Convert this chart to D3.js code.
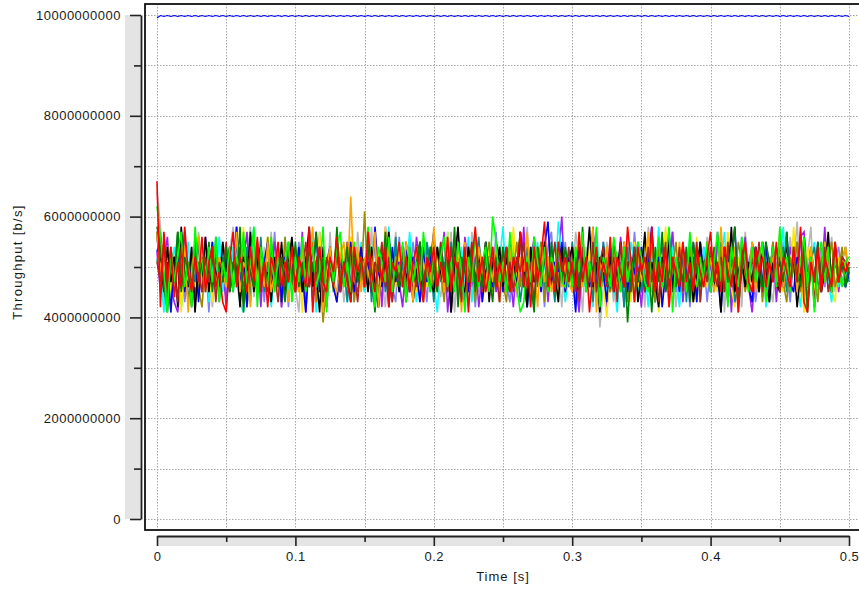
<!DOCTYPE html>
<html>
<head>
<meta charset="utf-8">
<script src="https://cdn.jsdelivr.net/npm/d3@7"></script>
<style>
  html, body { margin: 0; padding: 0; background: #fff; }
  svg { display: block; }
  text { font-family: "Liberation Sans", Arial, Helvetica, sans-serif; fill: #1a1a1a; }
</style>
</head>
<body>
<svg id="chart" width="859" height="590"></svg>
<script>
// Throughput samples, one value every STEP seconds, in units of UNIT b/s.
const STEP = 0.0025;
const UNIT = 1e8;

// Aggregate link throughput (top trace)
const linkTotal = [
99.4,99.9,99.7,99.9,99.7,99.9,99.7,99.9,99.7,99.9,99.7,99.9,99.7,99.9,99.7,99.9,99.7,99.9,99.7,99.9,
99.7,99.9,99.7,99.9,99.7,99.9,99.7,99.9,99.7,99.9,99.7,99.9,99.7,99.9,99.7,99.9,99.7,99.9,99.7,99.9,
99.7,99.9,99.7,99.9,99.7,99.9,99.7,99.9,99.7,99.9,99.7,99.9,99.7,99.9,99.7,99.9,99.7,99.9,99.7,99.9,
99.7,99.9,99.7,99.9,99.7,99.9,99.7,99.9,99.7,99.9,99.7,99.9,99.7,99.9,99.7,99.9,99.7,99.9,99.7,99.9,
99.7,99.9,99.7,99.9,99.7,99.9,99.7,99.9,99.7,99.9,99.7,99.9,99.7,99.9,99.7,99.9,99.7,99.9,99.7,99.9,
99.7,99.9,99.7,99.9,99.7,99.9,99.7,99.9,99.7,99.9,99.7,99.9,99.7,99.9,99.7,99.9,99.7,99.9,99.7,99.9,
99.7,99.9,99.7,99.9,99.7,99.9,99.7,99.9,99.7,99.9,99.7,99.9,99.7,99.9,99.7,99.9,99.7,99.9,99.7,99.9,
99.7,99.9,99.7,99.9,99.7,99.9,99.7,99.9,99.7,99.9,99.7,99.9,99.7,99.9,99.7,99.9,99.7,99.9,99.7,99.9,
99.7,99.9,99.7,99.9,99.7,99.9,99.7,99.9,99.7,99.9,99.7,99.9,99.7,99.9,99.7,99.9,99.7,99.9,99.7,99.9,
99.7,99.9,99.7,99.9,99.7,99.9,99.7,99.9,99.7,99.9,99.7,99.9,99.7,99.9,99.7,99.9,99.7,99.9,99.7,99.9,
99.7];

// Per-flow throughput
const flowGrey = [
65,58,44,53,41,49,57,45,51,47,54,41,57,49,46,52,42,50,56,47,
44,53,58,46,50,42,52,58,44,49,46,54,47,57,45,51,42,52,49,55,
46,41,54,50,47,56,45,52,49,42,57,46,51,53,43,48,52,45,57,49,
51,46,58,42,52,48,42,54,49,57,46,51,44,55,47,52,43,49,54,46,
56,47,44,52,49,57,41,51,46,53,42,57,49,45,52,47,55,46,51,43,
49,54,46,57,44,51,48,58,42,52,49,46,54,45,56,47,51,42,52,49,
46,57,51,41,54,48,45,52,38,46,55,49,43,53,50,46,56,45,52,47,
51,42,58,49,46,53,44,57,48,52,42,50,55,46,49,53,43,52,47,56,
45,51,49,57,41,53,48,46,52,42,57,49,46,54,50,44,55,47,43,52,
49,54,46,56,50,59,47,44,52,58,42,49,53,46,51,56,45,52,47,49,
50];

const flowLightBlue = [
55,57,47,42,53,46,51,55,43,49,52,45,56,47,51,41,54,49,46,55,
43,51,47,56,45,52,42,49,55,46,53,43,51,48,57,45,49,52,42,54,
47,55,45,51,46,54,43,57,49,42,52,47,55,45,51,46,56,43,53,49,
45,52,48,55,42,51,49,54,46,43,56,47,52,45,55,49,46,51,43,54,
49,45,55,46,52,43,51,56,47,54,45,49,42,55,50,46,52,47,57,45,
53,47,43,52,49,55,46,51,45,56,47,52,42,54,57,45,51,49,55,46,
52,43,49,54,46,51,56,45,48,55,43,52,49,46,54,42,51,47,57,49,
45,54,47,51,43,55,49,46,52,57,45,51,47,54,42,49,55,46,52,43,
51,46,55,45,53,49,43,52,47,56,46,51,54,43,49,55,45,52,47,51,
46,55,49,43,52,47,57,45,51,54,42,49,55,46,52,45,51,54,47,46,
49];

const flowPurple = [
53,45,51,56,46,43,41,49,57,47,52,44,51,46,56,49,45,54,47,51,
42,52,47,58,46,51,57,45,49,54,42,52,47,46,55,50,42,49,54,45,
51,47,57,41,52,49,46,56,45,51,54,47,43,52,49,55,46,51,45,54,
47,57,46,49,52,42,58,50,45,54,47,42,52,49,46,56,50,45,54,47,
52,46,51,57,41,49,54,47,45,56,50,46,52,42,49,55,47,54,45,51,
46,54,49,42,52,47,58,45,51,56,46,49,54,43,51,47,52,60,45,49,
54,47,41,52,49,46,57,50,45,54,42,49,52,47,56,46,51,45,54,49,
42,52,47,58,46,51,54,45,49,57,47,52,43,51,46,55,49,45,54,47,
51,45,57,49,46,54,41,52,47,50,56,46,41,49,54,45,51,47,55,43,
52,47,46,54,50,45,56,57,49,52,42,51,47,58,46,49,54,45,51,47,
51];

const flowCyan = [
57,49,41,52,46,54,50,42,47,55,45,52,49,46,54,43,51,47,56,45,
51,46,54,47,43,41,52,49,58,45,51,47,54,42,49,52,46,56,45,51,
49,54,45,51,47,57,41,52,46,49,54,45,56,47,51,43,52,49,46,55,
45,51,54,47,42,52,49,58,46,51,45,54,47,57,49,43,52,46,51,54,
47,41,52,49,57,46,51,45,54,47,56,43,51,49,46,54,45,52,47,51,
58,46,49,54,45,51,47,42,52,49,55,46,51,45,54,47,59,52,43,49,
51,45,54,47,46,52,42,57,49,51,45,54,47,41,52,49,46,55,51,45,
54,49,42,52,47,58,46,51,45,54,49,42,52,47,56,46,51,43,54,49,
46,52,47,51,57,45,49,54,41,52,47,46,55,51,45,54,42,49,52,47,
51,58,45,49,54,47,42,52,46,51,55,45,49,54,47,43,52,46,51,49,
48];

const flowYellow = [
56,51,46,54,45,49,57,41,52,47,51,46,55,45,54,49,43,52,47,51,
54,45,49,52,46,58,42,51,47,54,45,49,56,46,52,43,51,47,55,45,
49,52,41,54,47,51,46,57,45,49,52,47,43,54,51,46,56,45,52,49,
46,54,49,42,52,47,58,45,51,46,54,49,43,52,47,45,55,51,46,54,
51,45,52,47,57,41,49,54,46,51,45,52,49,55,43,47,54,46,51,45,
52,49,45,58,46,51,47,54,42,52,49,46,55,45,51,47,43,54,49,52,
45,51,57,46,49,54,43,52,47,46,40,51,49,45,54,47,52,43,55,46,
51,47,54,45,52,41,49,58,46,51,47,54,45,49,52,43,56,47,51,46,
54,49,45,52,47,57,46,42,51,54,47,45,52,49,46,55,43,51,47,54,
49,45,52,47,58,46,51,41,54,49,45,52,47,51,55,46,43,52,49,51,
48];

const flowTeal = [
51,55,47,44,54,49,57,46,52,43,51,47,55,45,49,54,46,56,43,52,
47,51,45,55,49,46,54,43,52,47,56,45,51,49,46,54,43,52,47,55,
45,52,49,46,55,43,51,54,47,45,52,49,55,46,51,43,54,47,49,52,
46,55,43,51,49,54,45,52,47,56,46,51,43,54,49,47,52,45,55,51,
43,54,47,51,45,55,49,46,52,43,54,47,51,56,45,49,52,46,54,47,
51,45,55,47,52,43,49,54,46,51,47,55,45,52,49,43,54,47,51,46,
55,49,45,52,47,51,43,54,46,55,49,45,52,47,51,42,54,46,49,55,
45,51,54,47,43,52,49,46,55,45,51,47,54,43,52,49,46,55,47,51,
52,46,49,55,45,51,54,43,47,52,49,46,55,51,45,54,47,43,52,49,
47,54,45,51,49,55,46,52,43,51,54,47,45,55,49,46,52,47,51,54,
47];

const flowOlive = [
56,49,54,45,51,47,55,46,52,43,49,54,46,42,51,47,55,45,52,49,
46,54,47,51,43,55,49,46,52,45,51,47,56,46,49,54,43,56,47,51,
54,45,49,52,46,55,43,51,39,47,54,45,52,49,46,55,51,43,52,47,
61,46,51,55,45,49,54,47,43,52,49,46,55,45,51,47,54,43,52,49,
46,54,49,43,52,47,55,45,51,49,46,54,43,52,47,51,55,45,49,54,
47,43,52,49,55,46,51,45,54,47,49,55,43,52,46,51,47,54,45,49,
52,47,45,54,49,46,55,43,51,47,52,45,54,49,46,55,43,51,47,52,
49,55,46,51,43,54,47,52,45,49,55,46,51,47,54,43,52,49,46,55,
45,51,47,54,49,43,52,46,55,51,45,49,54,47,52,43,51,46,55,49,
54,47,43,52,49,55,45,51,46,54,49,43,52,47,51,55,46,49,54,47,
50];

const flowBlue = [
53,56,46,51,41,52,49,57,45,51,47,54,43,52,46,49,55,45,51,47,
52,45,49,58,46,51,42,54,47,52,45,51,55,46,49,54,43,52,47,51,
46,54,49,41,52,47,57,45,51,49,54,46,43,52,47,51,55,45,49,54,
47,51,45,58,49,46,52,42,54,47,51,46,55,45,52,49,43,54,47,51,
57,46,51,47,54,41,52,49,46,55,45,51,47,54,43,49,52,46,55,51,
45,54,47,51,46,57,49,42,52,47,51,45,54,59,46,51,49,55,45,52,
49,41,54,47,51,46,58,45,52,49,43,54,47,51,46,55,45,52,49,47,
54,45,51,58,46,52,42,49,57,47,51,45,54,49,46,52,43,55,47,51,
46,52,49,41,54,47,51,58,45,49,52,46,43,54,51,47,55,45,52,49,
51,46,57,47,45,52,49,54,42,51,47,55,46,52,49,45,54,47,51,46,
49];

const flowBlack = [
57,51,45,54,47,52,42,58,49,46,54,41,51,47,56,45,52,49,46,55,
49,54,46,51,42,52,47,57,45,51,54,46,49,43,52,47,55,45,51,56,
47,52,45,51,58,46,49,41,54,47,52,46,55,45,51,49,43,54,47,52,
51,45,54,47,42,52,49,57,46,51,45,54,47,52,43,49,55,46,51,47,
45,54,49,46,52,41,51,58,47,45,54,49,46,52,47,55,43,51,49,54,
46,52,47,51,45,57,49,42,54,47,51,46,55,45,52,49,43,54,47,51,
54,47,45,52,49,58,46,51,41,54,47,52,45,49,55,46,51,47,54,43,
49,57,46,51,47,42,52,49,55,45,51,47,54,46,52,43,49,55,47,51,
52,46,51,41,54,47,58,45,49,52,46,51,47,54,45,55,49,43,52,47,
45,51,54,47,52,42,49,56,46,51,47,54,45,49,57,46,52,47,51,49,
51];

const flowOrange = [
57,49,55,46,52,45,51,47,54,41,49,55,56,46,51,47,54,45,52,49,
46,52,47,57,45,51,49,42,54,47,52,46,55,45,49,54,47,51,43,52,
49,45,54,47,51,58,46,52,41,49,54,47,45,52,55,46,64,47,54,45,
52,49,46,57,42,51,47,54,45,52,49,46,55,51,43,54,47,49,52,46,
58,47,51,45,54,49,46,52,41,55,47,51,45,54,49,46,52,47,55,43,
51,46,54,47,45,52,49,57,46,51,42,54,47,52,45,49,55,46,51,47,
45,54,49,46,52,47,58,41,51,49,54,46,52,45,49,55,47,51,43,54,
47,51,57,45,52,49,46,54,42,51,47,55,45,52,49,46,54,43,51,47,
52,45,49,58,47,51,46,54,41,52,49,47,55,45,51,54,46,49,52,47,
57,46,51,47,54,45,52,49,42,54,47,51,46,55,49,45,52,47,51,54,
49];

const flowBrown = [
51,47,55,45,52,49,43,54,47,51,46,55,49,45,52,47,54,43,51,49,
55,46,51,47,54,43,52,49,46,55,45,51,47,54,49,43,52,46,55,47,
45,52,49,55,46,51,47,54,43,52,49,46,55,45,51,47,54,49,43,52,
47,54,45,51,49,55,46,52,43,51,47,54,45,52,49,46,55,47,51,45,
52,46,55,49,45,54,47,51,43,52,49,55,46,51,45,54,47,52,49,43,
54,47,51,45,52,49,55,46,51,43,54,47,52,45,49,55,46,51,47,54,
46,52,43,54,49,47,55,45,51,54,46,49,52,43,55,47,51,45,54,49,
51,45,54,47,52,43,49,55,46,51,47,54,45,52,49,46,55,43,51,47,
54,49,46,52,45,55,47,51,43,54,49,46,52,47,55,45,51,49,54,46,
47,52,51,45,54,47,49,55,46,52,43,51,47,54,45,49,55,47,52,51,
49];

const flowDarkGreen = [
58,54,46,41,51,47,57,45,52,49,42,54,47,51,46,55,45,52,49,47,
54,45,51,47,58,41,52,49,46,54,47,51,45,55,49,46,52,43,51,47,
55,46,51,45,54,49,57,47,52,42,51,47,58,46,49,54,45,52,47,51,
46,54,49,41,52,47,57,45,51,49,46,54,43,52,47,51,55,45,49,54,
49,45,54,47,51,46,58,42,52,49,47,54,45,51,46,55,49,43,52,47,
54,47,45,52,49,57,46,51,47,41,54,49,52,46,55,45,51,47,54,49,
47,52,46,58,45,51,49,54,42,52,47,46,55,51,45,54,39,49,52,47,
52,46,51,41,54,47,57,45,49,52,46,51,47,54,43,55,49,46,51,52,
45,54,49,46,52,47,51,58,42,49,54,47,45,52,49,46,55,51,47,54,
51,47,57,45,52,49,46,54,41,51,47,55,46,52,49,45,54,47,51,46,
50];

const flowLime = [
62,56,49,41,54,47,52,57,46,51,42,58,49,52,45,54,47,56,43,51,
47,54,45,52,49,57,46,51,58,42,54,49,46,56,45,52,47,51,55,43,
52,47,56,45,51,54,46,49,58,41,52,47,54,57,46,51,45,55,49,52,
46,58,49,42,54,51,47,56,45,52,49,55,43,54,47,51,46,57,49,45,
54,47,52,56,46,51,45,55,49,41,52,47,57,46,51,54,45,60,55,47,
51,45,57,49,46,41,43,52,47,56,51,46,54,45,52,49,55,47,46,51,
46,54,49,57,45,51,47,58,42,52,49,46,56,51,45,54,47,52,43,55,
52,47,45,54,49,56,46,51,58,41,52,47,54,45,57,49,46,52,47,55,
45,51,57,47,52,42,54,49,46,56,51,45,54,47,52,55,43,49,54,46,
58,49,52,45,54,47,51,56,46,52,41,51,55,47,54,45,52,49,46,51,
52];

const flowRed = [
67,42,57,47,54,44,51,46,58,49,45,52,47,56,45,51,54,46,49,43,
41,51,57,46,52,49,45,54,47,56,46,51,42,52,49,55,46,51,47,54,
45,52,49,46,58,41,51,54,47,45,52,49,56,46,51,47,43,54,49,52,
46,57,49,45,52,47,54,42,51,49,55,46,52,45,51,54,47,43,52,49,
54,46,51,47,56,45,52,49,46,54,41,51,58,47,52,45,49,54,46,51,
47,54,45,52,49,57,46,51,42,54,47,52,59,46,51,45,55,49,52,47,
51,45,57,47,52,41,49,54,46,51,47,56,45,52,49,46,58,51,43,54,
49,52,46,58,45,51,47,54,42,52,49,46,55,47,51,45,54,49,46,52,
57,47,51,45,54,49,46,52,41,51,55,47,45,54,49,52,46,51,47,55,
45,52,49,46,54,47,58,43,41,51,47,54,45,52,49,46,55,47,51,49,
51];

// Drawing order: first entry is painted first (underneath).
const flows = [flowGrey, flowLightBlue, flowPurple, flowCyan, flowYellow, flowTeal, flowOlive,
               flowBlue, flowBlack, flowOrange, flowBrown, flowDarkGreen, flowLime, flowRed];
const flowColors = ["#b8b8b8", "#8080ff", "#a020f0", "#00ffff", "#ffe800", "#008b8b", "#9a8a00",
                    "#0000ff", "#000000", "#ffa500", "#b22222", "#008000", "#00ff00", "#ff0000"];

const yMajorTicks = [0, 2e9, 4e9, 6e9, 8e9, 1e10];
const yMinorTicks = [1e9, 3e9, 5e9, 7e9, 9e9];
const xMajorTicks = [0, 0.1, 0.2, 0.3, 0.4, 0.5];
const xMinorTicks = [0.05, 0.15, 0.25, 0.35, 0.45];

const svg = d3.select("#chart");

const x = d3.scaleLinear().domain([0, 0.5]).range([157, 849]);
const y = d3.scaleLinear().domain([0, 1e10]).range([519, 15]);

const frame = { left: 145, top: 4, right: 880, bottom: 530 };

// grey bands behind the axes
svg.append("rect").attr("x", 125).attr("y", y(1e10)).attr("width", 16)
  .attr("height", y(0) - y(1e10)).attr("fill", "#e4e4e4");
svg.append("rect").attr("x", x(0)).attr("y", 536).attr("width", x(0.5) - x(0))
  .attr("height", 10).attr("fill", "#e4e4e4");

// dotted grid
const grid = svg.append("g").attr("stroke", "#a8a8a8").attr("stroke-width", 1)
  .attr("stroke-dasharray", "1.5,1.5");
grid.selectAll("line.h").data(yMajorTicks.concat(yMinorTicks)).join("line")
  .attr("x1", frame.left).attr("x2", frame.right)
  .attr("y1", d => Math.round(y(d)) + 0.5).attr("y2", d => Math.round(y(d)) + 0.5);
grid.selectAll("line.v").data(xMajorTicks.concat(xMinorTicks)).join("line")
  .attr("x1", d => Math.round(x(d)) + 0.5).attr("x2", d => Math.round(x(d)) + 0.5)
  .attr("y1", frame.top).attr("y2", frame.bottom);

// series
const line = d3.line()
  .x((d, i) => x(i * STEP))
  .y(d => y(d * UNIT));

const series = svg.append("g").attr("fill", "none").attr("stroke-linejoin", "miter");
flows.forEach((vals, k) => {
  series.append("path").datum(vals)
    .attr("d", line)
    .attr("stroke", flowColors[k])
    .attr("stroke-width", 1.6);
});
series.append("path").datum(linkTotal)
  .attr("d", line)
  .attr("stroke", "#0000ff")
  .attr("stroke-width", 1.1);

// plot frame
svg.append("rect")
  .attr("x", frame.left).attr("y", frame.top)
  .attr("width", frame.right - frame.left).attr("height", frame.bottom - frame.top)
  .attr("fill", "none").attr("stroke", "#111").attr("stroke-width", 1.8);

// y axis
svg.append("g").attr("transform", "translate(141,0)")
  .call(d3.axisLeft(y).tickValues(yMajorTicks).tickSize(11).tickSizeOuter(0)
    .tickPadding(9).tickFormat(d3.format("d")));
svg.append("g").attr("transform", "translate(141,0)")
  .call(d3.axisLeft(y).tickValues(yMinorTicks).tickSize(7).tickSizeOuter(0).tickFormat(""))
  .call(g => g.select(".domain").remove());

// x axis
svg.append("g").attr("transform", "translate(0,536)")
  .call(d3.axisBottom(x).tickValues(xMajorTicks).tickSize(10).tickSizeOuter(0)
    .tickPadding(6).tickFormat(d => d === 0 ? "0" : d3.format(".1f")(d)));
svg.append("g").attr("transform", "translate(0,536)")
  .call(d3.axisBottom(x).tickValues(xMinorTicks).tickSize(6).tickSizeOuter(0).tickFormat(""))
  .call(g => g.select(".domain").remove());

svg.selectAll(".tick line").attr("stroke", "#222").attr("stroke-width", 1.6);
svg.selectAll(".domain").attr("stroke", "#222").attr("stroke-width", 1.8);
svg.selectAll(".tick text")
  .attr("font-size", 13)
  .attr("letter-spacing", "0.5px")
  .attr("font-family", "Liberation Sans, Arial, sans-serif")
  .attr("fill", "#1a1a1a");

// axis titles
svg.append("text")
  .attr("x", x(0.25)).attr("y", 581)
  .attr("text-anchor", "middle").attr("font-size", 13).attr("letter-spacing", "1px")
  .text("Time [s]");
svg.append("text")
  .attr("transform", "translate(22,262) rotate(-90)")
  .attr("text-anchor", "middle").attr("font-size", 13).attr("letter-spacing", "1.3px")
  .text("Throughput [b/s]");
</script>
</body>
</html>
